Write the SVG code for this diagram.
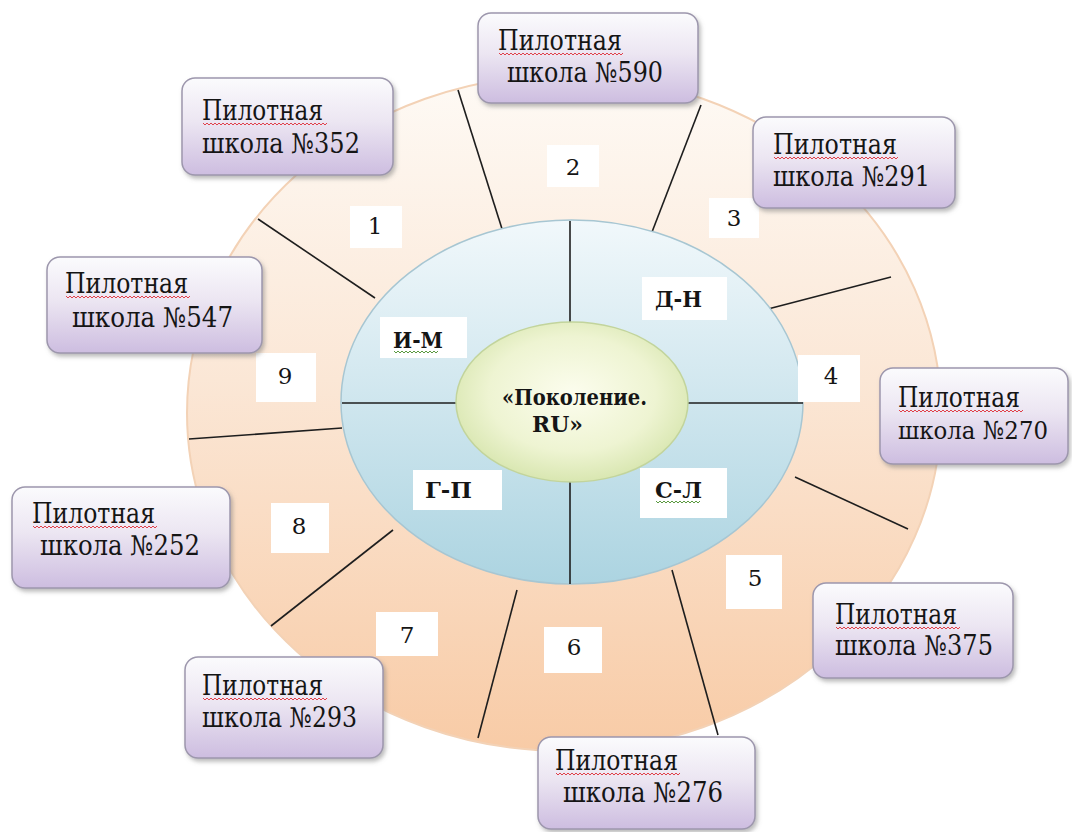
<svg xmlns="http://www.w3.org/2000/svg" xmlns:xlink="http://www.w3.org/1999/xlink" width="1072" height="832" viewBox="0 0 1072 832">
<defs>
<linearGradient id="ringG" x1="0.5" y1="0" x2="0.5" y2="1">
<stop offset="0" stop-color="#fefaf5"/>
<stop offset="0.45" stop-color="#fbe7d6"/>
<stop offset="1" stop-color="#f8cba6"/>
</linearGradient>
<linearGradient id="blueG" x1="0.5" y1="0" x2="0.5" y2="1">
<stop offset="0" stop-color="#f1f8fb"/>
<stop offset="0.5" stop-color="#cfe6ee"/>
<stop offset="1" stop-color="#acd4e1"/>
</linearGradient>
<radialGradient id="greenG" cx="0.5" cy="0.45" r="0.6">
<stop offset="0" stop-color="#fcfdee"/>
<stop offset="0.6" stop-color="#eef4d2"/>
<stop offset="1" stop-color="#d3e3a8"/>
</radialGradient>
<linearGradient id="boxG" x1="0.5" y1="0" x2="0.5" y2="1">
<stop offset="0" stop-color="#fbfbfd"/>
<stop offset="0.45" stop-color="#ece6f2"/>
<stop offset="1" stop-color="#cdbde0"/>
</linearGradient>
<filter id="sh" x="-10%" y="-10%" width="125%" height="130%">
<feDropShadow dx="2" dy="3" stdDeviation="2" flood-color="#777" flood-opacity="0.5"/>
</filter>
<path id="wr" d="M0 0 l2 2 l2 -2 l2 2 l2 -2 l2 2 l2 -2 l2 2 l2 -2 l2 2 l2 -2 l2 2 l2 -2 l2 2 l2 -2 l2 2 l2 -2 l2 2 l2 -2 l2 2 l2 -2 l2 2 l2 -2 l2 2 l2 -2 l2 2 l2 -2 l2 2 l2 -2 l2 2 l2 -2 l2 2 l2 -2 l2 2 l2 -2 l2 2 l2 -2 l2 2 l2 -2 l2 2 l2 -2 l2 2 l2 -2 l2 2 l2 -2 l2 2 l2 -2 l2 2 l2 -2 l2 2 l2 -2 l2 2 l2 -2 l2 2 l2 -2 l2 2 l2 -2 l2 2 l2 -2 l2 2 l2 -2 l2 2 l2 -2" fill="none" stroke="#e0404a" stroke-width="1"/>
<path id="wg" d="M0 0 l2 2 l2 -2 l2 2 l2 -2 l2 2 l2 -2 l2 2 l2 -2 l2 2 l2 -2 l2 2 l2 -2 l2 2 l2 -2 l2 2 l2 -2 l2 2 l2 -2 l2 2 l2 -2 l2 2 l2 -2" fill="none" stroke="#5a9a40" stroke-width="1"/>
</defs>
<style>
.box{fill:url(#boxG);stroke:#9d97ad;stroke-width:1.5;filter:url(#sh)}
.st{font-size:27px;fill:#151515}
.num{font-size:23px;fill:#151515;text-anchor:middle}
.lab{font-size:23px;font-weight:bold;fill:#151515}
.wb{fill:#ffffff}
.ln{stroke:#1e1e1e;stroke-width:1.6;fill:none}
</style>

<g id="ring">
<ellipse cx="564" cy="413" rx="377" ry="338" fill="url(#ringG)" stroke="#f3d2b6" stroke-width="2"/>
</g>

<g id="connectors">
<line class="ln" x1="258" y1="219" x2="375" y2="298"/>
<line class="ln" x1="458" y1="90" x2="503" y2="232"/>
<line class="ln" x1="701" y1="105" x2="652" y2="232"/>
<line class="ln" x1="891" y1="277" x2="768" y2="309"/>
<line class="ln" x1="908" y1="529" x2="795" y2="477"/>
<line class="ln" x1="718" y1="735" x2="672" y2="570"/>
<line class="ln" x1="478" y1="738" x2="517" y2="590"/>
<line class="ln" x1="271" y1="626" x2="393" y2="530"/>
<line class="ln" x1="189" y1="439" x2="342" y2="428"/>
</g>

<g id="districts">
<ellipse cx="572" cy="402" rx="231" ry="182" fill="url(#blueG)" stroke="#a7c6d2" stroke-width="1.5"/>
<line class="ln" x1="570" y1="221" x2="570" y2="323"/>
<line class="ln" x1="570" y1="482" x2="570" y2="584"/>
<line class="ln" x1="342" y1="403" x2="457" y2="403"/>
<line class="ln" x1="687" y1="403" x2="803" y2="403"/>
</g>

<g font-family="'DejaVu Serif', 'Liberation Serif', serif">
<g id="center">
<ellipse cx="572" cy="402" rx="116" ry="80" fill="url(#greenG)" stroke="#c2d49c" stroke-width="1.5"/>
<text class="lab" x="502" y="405" textLength="145" lengthAdjust="spacingAndGlyphs">«Поколение.</text>
<text class="lab" x="532" y="432" textLength="51" lengthAdjust="spacingAndGlyphs">RU»</text>
</g>

<g id="label-im">
<rect class="wb" x="380" y="317" width="87" height="41"/>
<text class="lab" x="393" y="348" textLength="50" lengthAdjust="spacingAndGlyphs">И-М</text>
<use xlink:href="#wg" x="394" y="351"/>
</g>
<g id="label-dn">
<rect class="wb" x="642" y="277" width="85" height="43"/>
<text class="lab" x="655" y="307" textLength="47" lengthAdjust="spacingAndGlyphs">Д-Н</text>
</g>
<g id="label-gp">
<rect class="wb" x="413" y="470" width="89" height="40"/>
<text class="lab" x="425" y="498" textLength="47" lengthAdjust="spacingAndGlyphs">Г-П</text>
</g>
<g id="label-sl">
<rect class="wb" x="640" y="468" width="87" height="50"/>
<text class="lab" x="655" y="498" textLength="47" lengthAdjust="spacingAndGlyphs">С-Л</text>
<use xlink:href="#wg" x="656" y="501"/>
</g>

<g id="n1"><rect class="wb" x="350" y="206" width="52" height="42"/><text class="num" x="375" y="234">1</text></g>
<g id="n2"><rect class="wb" x="547" y="145" width="52" height="42"/><text class="num" x="573" y="175">2</text></g>
<g id="n3"><rect class="wb" x="709" y="198" width="50" height="40"/><text class="num" x="734" y="226">3</text></g>
<g id="n4"><rect class="wb" x="798" y="355" width="62" height="47"/><text class="num" x="831" y="384">4</text></g>
<g id="n5"><rect class="wb" x="726" y="555" width="56" height="54"/><text class="num" x="755" y="586">5</text></g>
<g id="n6"><rect class="wb" x="544" y="627" width="58" height="46"/><text class="num" x="574" y="655">6</text></g>
<g id="n7"><rect class="wb" x="376" y="612" width="62" height="44"/><text class="num" x="407" y="643">7</text></g>
<g id="n8"><rect class="wb" x="271" y="503" width="58" height="50"/><text class="num" x="299" y="534">8</text></g>
<g id="n9"><rect class="wb" x="256" y="353" width="60" height="49"/><text class="num" x="285" y="384">9</text></g>

<g id="school-352">
<rect class="box" x="182" y="78" width="211" height="97" rx="13"/>
<text class="st" x="202" y="120" textLength="121" lengthAdjust="spacingAndGlyphs">Пилотная</text>
<use xlink:href="#wr" x="203" y="123"/>
<text class="st" x="202" y="153" textLength="158" lengthAdjust="spacingAndGlyphs">школа №352</text>
</g>
<g id="school-590">
<rect class="box" x="478" y="13" width="220" height="90" rx="13"/>
<text class="st" x="498" y="50" textLength="124" lengthAdjust="spacingAndGlyphs">Пилотная</text>
<use xlink:href="#wr" x="499" y="53"/>
<text class="st" x="507" y="82" textLength="156" lengthAdjust="spacingAndGlyphs">школа №590</text>
</g>
<g id="school-291">
<rect class="box" x="753" y="117" width="202" height="91" rx="13"/>
<text class="st" x="773" y="154" textLength="124" lengthAdjust="spacingAndGlyphs">Пилотная</text>
<use xlink:href="#wr" x="774" y="157"/>
<text class="st" x="773" y="186" textLength="157" lengthAdjust="spacingAndGlyphs">школа №291</text>
</g>
<g id="school-547">
<rect class="box" x="47" y="257" width="215" height="96" rx="13"/>
<text class="st" x="65" y="293" textLength="123" lengthAdjust="spacingAndGlyphs">Пилотная</text>
<use xlink:href="#wr" x="66" y="296"/>
<text class="st" x="72" y="327" textLength="161" lengthAdjust="spacingAndGlyphs">школа №547</text>
</g>
<g id="school-270">
<rect class="box" x="880" y="368" width="188" height="96" rx="13"/>
<text class="st" x="898" y="407" textLength="122" lengthAdjust="spacingAndGlyphs">Пилотная</text>
<use xlink:href="#wr" x="899" y="410"/>
<text class="st" x="898" y="439" font-size="25" style="font-size:25px" textLength="150" lengthAdjust="spacingAndGlyphs">школа №270</text>
</g>
<g id="school-252">
<rect class="box" x="12" y="487" width="218" height="101" rx="13"/>
<text class="st" x="32" y="523" textLength="123" lengthAdjust="spacingAndGlyphs">Пилотная</text>
<use xlink:href="#wr" x="33" y="526"/>
<text class="st" x="40" y="555" textLength="160" lengthAdjust="spacingAndGlyphs">школа №252</text>
</g>
<g id="school-375">
<rect class="box" x="813" y="583" width="200" height="95" rx="13"/>
<text class="st" x="835" y="624" textLength="122" lengthAdjust="spacingAndGlyphs">Пилотная</text>
<use xlink:href="#wr" x="836" y="627"/>
<text class="st" x="835" y="655" textLength="158" lengthAdjust="spacingAndGlyphs">школа №375</text>
</g>
<g id="school-293">
<rect class="box" x="185" y="657" width="198" height="101" rx="13"/>
<text class="st" x="202" y="695" textLength="121" lengthAdjust="spacingAndGlyphs">Пилотная</text>
<use xlink:href="#wr" x="203" y="698"/>
<text class="st" x="202" y="727" textLength="155" lengthAdjust="spacingAndGlyphs">школа №293</text>
</g>
<g id="school-276">
<rect class="box" x="538" y="737" width="217" height="92" rx="13"/>
<text class="st" x="555" y="770" textLength="123" lengthAdjust="spacingAndGlyphs">Пилотная</text>
<use xlink:href="#wr" x="556" y="773"/>
<text class="st" x="563" y="802" textLength="160" lengthAdjust="spacingAndGlyphs">школа №276</text>
</g>
</g>
</svg>
